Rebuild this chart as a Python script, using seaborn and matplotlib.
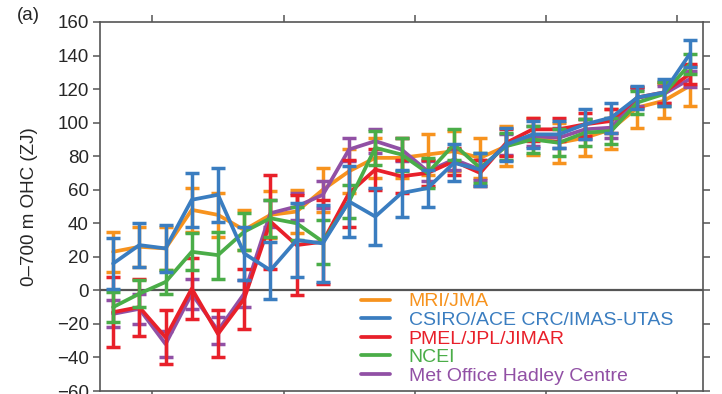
import matplotlib
matplotlib.use("Agg")
import matplotlib.pyplot as plt
import numpy as np
import pandas as pd
import seaborn as sns
from matplotlib.lines import Line2D

# years: annual means plotted at mid-year
years = np.arange(1993, 2016)

mri = [23, 26, 25, 48, 45, 36, 45, 47, 60, 71, 79, 79, 81, 83, 79, 86, 92, 88, 91, 96, 109, 113, 122]
mri_err = [12, 12, 13, 13, 13, 12, 14, 13, 13, 13, 12, 12, 12, 12, 12, 12, 11, 12, 11, 12, 12, 10, 12]

csiro = [16, 27, 25, 54, 57, 22, 12, 30, 28, 53, 44, 58, 61, 76, 72, 87, 93, 93, 99, 103, 115, 118, 141]
csiro_err = [15, 13, 14, 16, 16, 16, 17, 22, 23, 21, 17, 14, 11, 11, 10, 10, 8, 8, 9, 9, 7, 8, 8]

pmel = [-13, -10, -28, 1, -26, -5, 41, 27, 29, 58, 72, 68, 70, 77, 70, 88, 96, 96, 99, 101, 115, 118, 129]
pmel_err = [21, 17, 16, 18, 14, 18, 28, 30, 25, 20, 12, 10, 8, 8, 8, 8, 7, 7, 7, 7, 6, 6, 6]

ncei = [-10, -2, 5, 23, 21, 35, 43, 40, 29, 53, 85, 81, 70, 87, 73, 86, 90, 88, 94, 95, 112, 117, 135]
ncei_err = [9, 8, 7, 11, 14, 11, 11, 10, 13, 10, 10, 10, 9, 9, 9, 8, 8, 8, 8, 8, 7, 7, 6]

hadley = [-14, -11, -32, -2, -24, -2, 46, 50, 57, 84, 89, 84, 71, 78, 72, 87, 92, 91, 96, 97, 115, 117, 126]
hadley_err = [8, 9, 8, 9, 8, 8, 8, 8, 8, 7, 7, 7, 6, 6, 6, 6, 6, 6, 6, 6, 5, 5, 5]

names = ["MRI/JMA", "CSIRO/ACE CRC/IMAS-UTAS", "PMEL/JPL/JIMAR", "NCEI", "Met Office Hadley Centre"]
colors = ["#f7931e", "#3a7dc0", "#e8202a", "#4aad48", "#9150a5"]

series = {
    names[0]: (mri, mri_err),
    names[1]: (csiro, csiro_err),
    names[2]: (pmel, pmel_err),
    names[3]: (ncei, ncei_err),
    names[4]: (hadley, hadley_err),
}

rows = []
for nm, (vals, errs) in series.items():
    for yr, v, e in zip(years, vals, errs):
        rows.append({"year": yr + 0.5, "ohc": v, "err": e, "source": nm})
df = pd.DataFrame(rows)

sns.set_style("ticks")
plt.rcParams['font.family'] = ['Liberation Sans', 'DejaVu Sans']

fig = plt.figure(figsize=(7.22, 3.94), dpi=100)
ax = fig.add_axes([100/722, 1 - 391/394, 603/722, 369/394])

ax.axhline(0, color="#555555", lw=1.6, zorder=1)

# draw order: orange under, blue on top
order = [0, 4, 2, 3, 1]
for k, i in enumerate(order):
    nm = names[i]
    sub = df[df["source"] == nm]
    sns.lineplot(data=sub, x="year", y="ohc", color=colors[i], lw=2.7,
                 ax=ax, zorder=3 + k, legend=False)
    ax.errorbar(sub["year"], sub["ohc"], yerr=sub["err"], fmt="none",
                ecolor=colors[i], elinewidth=2.5, capsize=5, capthick=2.5,
                zorder=3 + k)

ax.set_xlim(1993, 2016)
ax.set_ylim(-60, 160)
ax.set_xticks([1995, 2000, 2005, 2010, 2015])
ax.set_yticks(np.arange(-60, 161, 20))
ax.set_yticklabels([str(t).replace("-", "\u2212") for t in range(-60, 161, 20)])
ax.tick_params(direction="out", length=5, width=1.1, color="#555555",
               top=True, right=True, labelbottom=False, labelsize=13.5, pad=3)
for sp in ax.spines.values():
    sp.set_color("#555555")
    sp.set_linewidth(1.2)
ax.set_xlabel("")
ax.set_ylabel("0\u2013700 m OHC (ZJ)", fontsize=13.5)
ax.yaxis.set_label_coords(-0.103, 0.5)

fig.text(17/722, 1 - 15/394, "(a)", fontsize=13.5, va="center", ha="left")

handles = [Line2D([0], [0], color=c, lw=2.7) for c in colors]
leg = ax.legend(handles, names, loc="upper left", bbox_to_anchor=(0.433, 0.266),
                frameon=False, fontsize=14, handlelength=1.5, handletextpad=0.95,
                labelspacing=0.05, borderaxespad=0, borderpad=0)
leg.set_zorder(20)
for txt, c in zip(leg.get_texts(), colors):
    txt.set_color(c)

plt.savefig("out.png", dpi=100)
plt.close()
